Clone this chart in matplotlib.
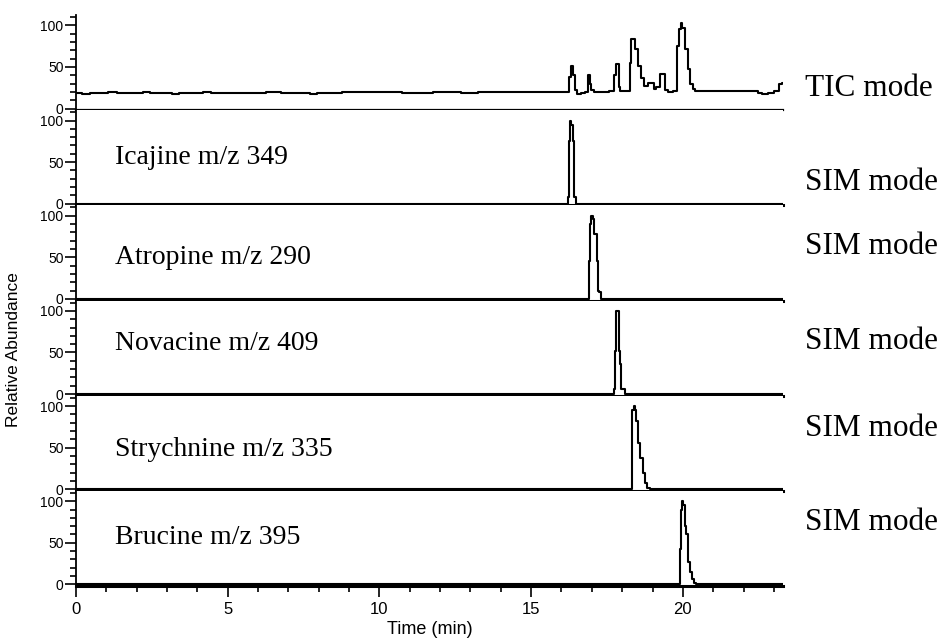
import matplotlib
matplotlib.use("Agg")
import matplotlib.pyplot as plt
from matplotlib.ticker import MultipleLocator

# TIC trace (time in min, relative abundance %)
tic_time = [0.0, 0.4, 0.5, 1.0, 1.1, 1.6, 2.0, 2.4, 2.5, 3.0, 3.3, 3.5, 4.0, 4.4,
            4.5, 5.0, 5.5, 6.0, 6.5, 7.0, 7.5, 7.9, 8.0, 8.5, 9.0, 9.5, 10.0,
            10.5, 11.0, 11.5, 12.0, 12.5, 12.9, 13.0, 13.5, 14.0, 14.5, 15.0,
            15.5, 16.0, 16.2, 16.28, 16.34, 16.4, 16.47, 16.58, 16.7, 16.85,
            16.9, 16.95, 16.99, 17.16, 17.4, 17.72, 17.76, 17.8, 17.86, 17.9,
            17.98, 18.23, 18.27, 18.32, 18.37, 18.46, 18.57, 18.68, 18.79, 18.9,
            19.01, 19.07, 19.18, 19.29, 19.4, 19.45, 19.56, 19.76, 19.84, 19.9,
            19.95, 20.0, 20.12, 20.21, 20.28, 20.36, 20.45, 20.8, 21.2, 21.6,
            22.0, 22.44, 22.5, 22.7, 22.9, 23.11, 23.22, 23.33]
tic_vals = [19, 18, 19, 19, 20, 19, 19, 20, 19, 19, 18, 19, 19, 20,
            19, 18.5, 19, 19, 19.5, 19, 19, 18, 19, 19, 19.5, 20, 20,
            19.5, 19, 19, 20, 19.5, 18.5, 19, 19.5, 19.5, 20, 20,
            19.5, 20, 20, 38, 51, 40, 22, 18, 19, 20,
            40, 30, 22, 20, 20, 21, 40, 54, 54, 26,
            21, 21, 55, 84, 84, 71, 51, 37, 27, 31,
            31, 24, 26, 41, 41, 22, 20, 21, 75, 96,
            103, 97, 71, 47, 29, 23, 21, 21, 20.5, 21,
            21, 21, 19, 18, 19, 21, 30, 31]

# SIM traces
icajine_t = [0.0, 16.18, 16.22, 16.25, 16.30, 16.35, 16.38, 16.45, 16.50, 23.3]
icajine_v = [0, 0, 8, 75, 100, 95, 75, 8, 0, 0]

atropine_t = [0.0, 16.90, 16.91, 16.93, 16.97, 17.00, 17.05, 17.08, 17.15,
              17.18, 17.22, 17.28, 17.32, 23.3]
atropine_v = [0, 0, 10, 45, 90, 100, 96, 78, 78, 46, 10, 8, 0, 0]

novacine_t = [0.0, 17.72, 17.74, 17.77, 17.82, 17.88, 17.90, 17.93, 17.98,
              18.08, 18.10, 23.3]
novacine_v = [0, 0, 6, 52, 100, 100, 52, 36, 6, 6, 0, 0]

strychnine_t = [0.0, 18.30, 18.32, 18.36, 18.40, 18.44, 18.48, 18.55, 18.63,
                18.72, 18.78, 18.88, 18.95, 23.3]
strychnine_v = [0, 0, 47, 95, 100, 95, 82, 55, 37, 20, 8, 2, 0, 0]

brucine_t = [0.0, 19.89, 19.91, 19.95, 19.99, 20.03, 20.08, 20.15, 20.20,
             20.28, 20.33, 20.40, 20.45, 23.3]
brucine_v = [0, 0, 43, 90, 100, 96, 70, 60, 27, 15, 6, 2, 0, 0]

panel_times = [tic_time, icajine_t, atropine_t, novacine_t, strychnine_t, brucine_t]
panel_vals = [tic_vals, icajine_v, atropine_v, novacine_v, strychnine_v, brucine_v]
left_labels = ["", "Icajine m/z 349", "Atropine m/z 290", "Novacine m/z 409",
               "Strychnine m/z 335", "Brucine m/z 395"]
right_labels = ["TIC mode", "SIM mode", "SIM mode", "SIM mode", "SIM mode", "SIM mode"]
# label heights in figure pixels (from top)
left_y = [0, 157, 258, 344, 450, 537]
right_y = [88, 183, 247, 342, 428, 523]

W, H = 943, 644
fig = plt.figure(figsize=(W / 100, H / 100), dpi=100)
left, right = 76 / W, 783 / W
top_px, bot_px = 15, 586
ph = (bot_px - top_px) / 6

sans = "Liberation Sans"
serif = "Liberation Serif"

for i in range(6):
    y0 = 1 - (top_px + (i + 1) * ph) / H
    ax = fig.add_axes([left, y0, right - left, ph / H])
    ax.plot(panel_times[i], panel_vals[i], color="black", lw=1.5,
            drawstyle="steps-mid")
    ax.set_xlim(0, 23.3)
    ax.set_ylim(-2, 112.5)
    for s in ["top", "right"]:
        ax.spines[s].set_visible(False)
    ax.spines["left"].set_linewidth(1.3)
    ax.spines["bottom"].set_linewidth(2.2 if i > 0 else 1.6)
    ax.yaxis.set_major_locator(MultipleLocator(50))
    ax.yaxis.set_minor_locator(MultipleLocator(10))
    ax.tick_params(axis="y", which="major", length=8, width=1.2, pad=1,
                   labelsize=10)
    ax.tick_params(axis="y", which="minor", length=4.5, width=1.2)
    for lab in ax.get_yticklabels():
        lab.set_fontfamily(sans)
    if i < 5:
        ax.tick_params(axis="x", which="both", bottom=False, labelbottom=False)
    else:
        ax.xaxis.set_major_locator(MultipleLocator(5))
        ax.xaxis.set_minor_locator(MultipleLocator(1))
        ax.tick_params(axis="x", which="major", length=8, width=1.2, labelsize=12)
        ax.tick_params(axis="x", which="minor", length=4.5, width=1.2)
        for lab in ax.get_xticklabels():
            lab.set_fontfamily(sans)
    if left_labels[i]:
        fig.text(115 / W, 1 - left_y[i] / H, left_labels[i], fontsize=20,
                 family=serif, va="center", ha="left")
    fig.text(805 / W, 1 - right_y[i] / H, right_labels[i], fontsize=22.5,
             family=serif, va="center", ha="left")

fig.text(14 / W, 1 - 350 / H, "Relative Abundance", rotation=90, fontsize=12.5,
         family=sans, va="center", ha="center")
fig.text(430 / W, 1 - 630 / H, "Time (min)", fontsize=13, family=sans,
         va="center", ha="center")

fig.savefig("out.png", dpi=100)
